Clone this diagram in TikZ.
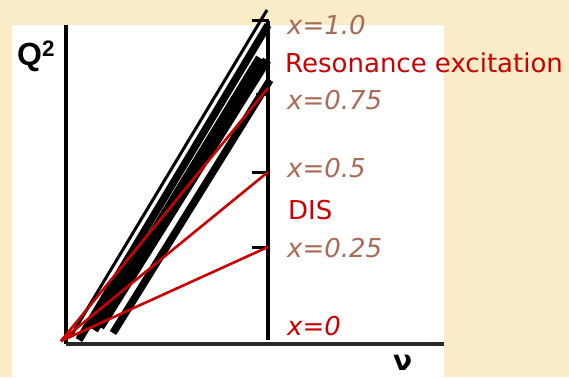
\documentclass[tikz,border=0pt]{standalone}
\usepackage{fontspec}
\setmainfont{DejaVu Sans}
\newfontfamily\arialfont{Liberation Sans}
\definecolor{cream}{RGB}{251,236,200}
\definecolor{redline}{RGB}{204,0,0}
\definecolor{brownlbl}{RGB}{168,108,88}
\tikzset{
  axisline/.style={line width=3.5pt, black},
  tickline/.style={line width=3pt, black},
  redray/.style={line width=2.6pt, redline},
  band/.style={black, line cap=butt},
  xlbl/.style={anchor=base west, inner sep=0pt, font=\fontsize{26}{26}\selectfont\itshape, text=brownlbl},
  rlbl/.style={anchor=base west, inner sep=0pt, font=\fontsize{26}{26}\selectfont, text=redline},
}
\begin{document}
\begin{tikzpicture}[x=1pt,y=-1pt]
\useasboundingbox (0,0) rectangle (569,377);
\fill[cream] (0,0) rectangle (569,377);
\fill[white] (12,25) rectangle (444,377);
% axes
\coordinate (yaxtop) at (66,25);
\coordinate (orig) at (66,344);
\coordinate (xaxend) at (444,344);
\draw[axisline] (yaxtop) -- (orig);
\draw[axisline, black!85] (orig) -- (xaxend);
% right vertical line
\coordinate (vtop) at (268,21);
\coordinate (vbot) at (268,340);
\draw[axisline] (vtop) -- (vbot);
% ticks
\coordinate (t1a) at (252,21);  \coordinate (t1b) at (269,21);
\coordinate (t2a) at (256,95);  \coordinate (t2b) at (269,95);
\coordinate (t3a) at (252,172); \coordinate (t3b) at (269,172);
\coordinate (t4a) at (252,247); \coordinate (t4b) at (269,247);
\draw[tickline] (t1a) -- (t1b);
\draw[tickline] (t2a) -- (t2b);
\draw[tickline] (t3a) -- (t3b);
\draw[tickline] (t4a) -- (t4b);
% black bands
\coordinate (a1) at (267,10);  \coordinate (a2) at (71,336);
\coordinate (b1) at (268,25);  \coordinate (b2) at (79,340);
\coordinate (c1) at (260,58);  \coordinate (c2) at (94,330);
\coordinate (d1) at (267,60);  \coordinate (d2) at (100,327);
\coordinate (e1) at (270,80);  \coordinate (e2) at (113,333);
\draw[band, line width=3pt] (a1) -- (a2);
\draw[band, line width=7.5pt] (b1) -- (b2);
\draw[band, line width=9pt] (c1) -- (c2);
\draw[band, line width=9pt] (d1) -- (d2);
\draw[band, line width=7.5pt] (e1) -- (e2);
% red rays
\coordinate (ro) at (61,341);
\coordinate (r1) at (268,88);
\coordinate (r2) at (268,172);
\coordinate (r3) at (268,247);
\draw[redray] (ro) -- (r1);
\draw[redray] (ro) -- (r2);
\draw[redray] (ro) -- (r3);
% labels
\node[xlbl] (l10) at (287,35) {x=1.0};
\node[rlbl] (lres) at (285,73) {Resonance excitation};
\node[xlbl] (l075) at (287,110) {x=0.75};
\node[xlbl] (l05) at (287,177) {x=0.5};
\node[rlbl] (ldis) at (288,219) {DIS};
\node[xlbl] (l025) at (287,257) {x=0.25};
\node[rlbl, font=\fontsize{26}{26}\selectfont\itshape] (l0) at (287,335) {x=0};
\node[anchor=base west, inner sep=0pt, font=\arialfont\bfseries\fontsize{32}{32}\selectfont] (q2) at (17,66) {Q\textsuperscript{2}};
\node[anchor=base west, inner sep=0pt, font=\fontsize{28}{28}\selectfont\bfseries] (nu) at (393,370) {ν};
\end{tikzpicture}
\end{document}
